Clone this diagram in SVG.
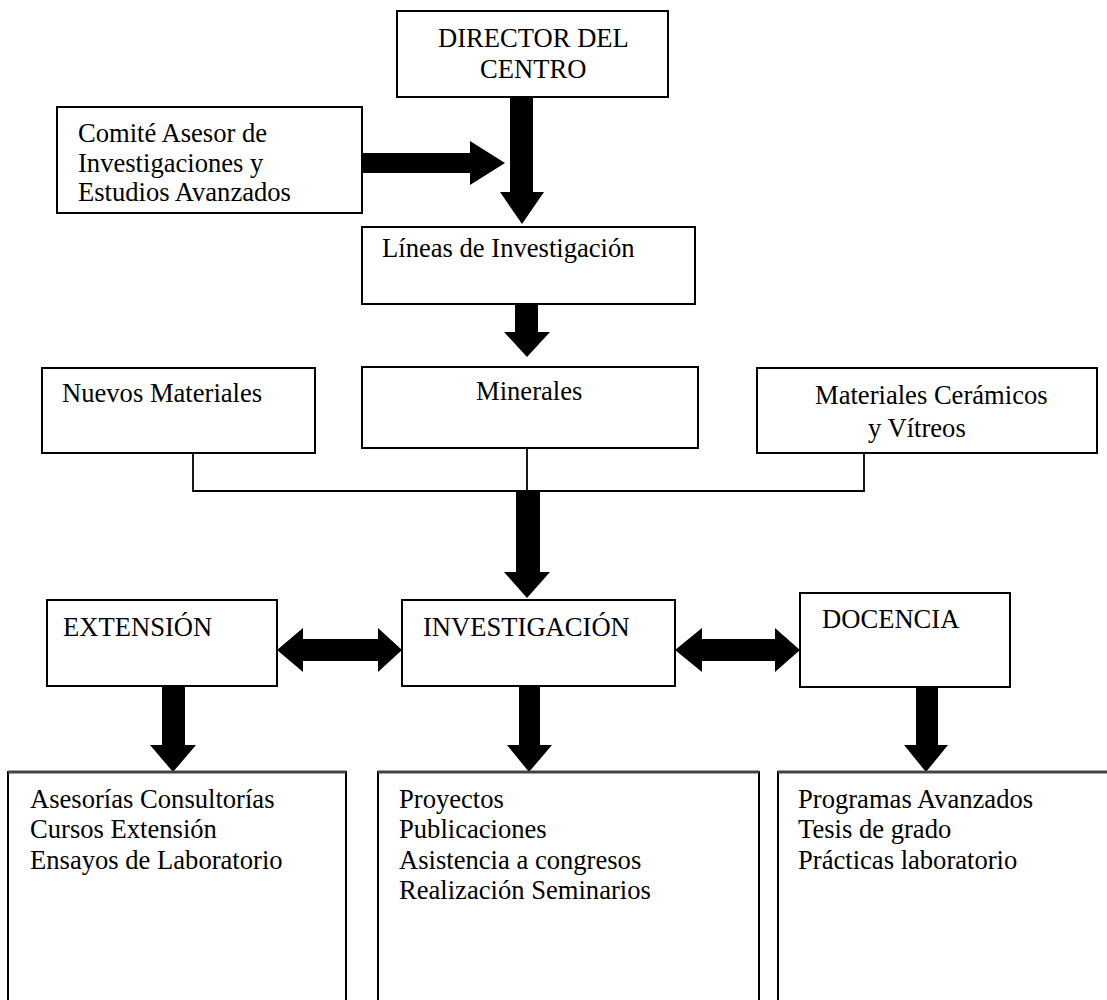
<svg xmlns="http://www.w3.org/2000/svg" width="1107" height="1000" viewBox="0 0 1107 1000">
<style>
  .box { fill: #ffffff; stroke: #000000; stroke-width: 2; }
  .t { font-family: "Liberation Serif", "Times New Roman", serif; font-size: 26.6px; fill: #000000; }
  .arr { fill: #000000; stroke: none; }
  .ln { fill: none; stroke: #000000; stroke-width: 1.8; }
  .topln { stroke: #444444; stroke-width: 3; }
</style>
<rect x="0" y="0" width="1107" height="1000" fill="#ffffff"/>

<g id="connectors">
  <polygon class="arr" points="510,97 533,97 533,192 544,192 522,224 500,192 510,192"/>
  <polygon class="arr" points="362,153 470,153 470,141 505,163 470,185 470,173 362,173"/>
  <polygon class="arr" points="515,305 538,305 538,332 550,332 527,357 504,332 515,332"/>
  <path class="ln" d="M193,453 V491 H864 V453 M527,437 V491"/>
  <polygon class="arr" points="516,492 540,492 540,572 550,572 527,598 504,572 516,572"/>
  <polygon class="arr" points="277,650 303,628 303,639 378,639 378,628 402,650 378,672 378,661 303,661 303,672"/>
  <polygon class="arr" points="675,650 702,628 702,639 775,639 775,628 800,650 775,672 775,661 702,661 702,672"/>
  <polygon class="arr" points="162,687 185,687 185,745 196,745 173,772 150,745 162,745"/>
  <polygon class="arr" points="519,687 540,687 540,745 552,745 529,772 507,745 519,745"/>
  <polygon class="arr" points="916,687 938,687 938,745 948,745 926,772 904,745 916,745"/>
</g>

<g id="director">
  <rect class="box" x="397" y="11" width="271" height="86"/>
  <text class="t" x="438" y="47">DIRECTOR DEL</text>
  <text class="t" x="480" y="78">CENTRO</text>
</g>
<g id="comite">
  <rect class="box" x="57" y="107" width="305" height="106"/>
  <text class="t" x="78" y="142">Comité Asesor de</text>
  <text class="t" x="78" y="172">Investigaciones y</text>
  <text class="t" x="78" y="201">Estudios Avanzados</text>
</g>
<g id="lineas">
  <rect class="box" x="362" y="227" width="333" height="77"/>
  <text class="t" x="382" y="257">Líneas de Investigación</text>
</g>
<g id="nuevos">
  <rect class="box" x="42" y="368" width="273" height="85"/>
  <text class="t" x="62" y="402">Nuevos Materiales</text>
</g>
<g id="minerales">
  <rect class="box" x="362" y="367" width="336" height="81"/>
  <text class="t" x="476" y="400">Minerales</text>
</g>
<g id="ceramicos">
  <rect class="box" x="757" y="368" width="340" height="85"/>
  <text class="t" x="815" y="404">Materiales Cerámicos</text>
  <text class="t" x="868" y="437">y Vítreos</text>
</g>
<g id="extension">
  <rect class="box" x="47" y="600" width="230" height="86"/>
  <text class="t" x="63" y="636">EXTENSIÓN</text>
</g>
<g id="investigacion">
  <rect class="box" x="402" y="600" width="273" height="86"/>
  <text class="t" x="423" y="636">INVESTIGACIÓN</text>
</g>
<g id="docencia">
  <rect class="box" x="800" y="593" width="210" height="94"/>
  <text class="t" x="822" y="628">DOCENCIA</text>
</g>
<g id="extension-items">
  <rect class="box" x="8" y="772" width="338" height="250"/>
  <line class="topln" x1="8" y1="772" x2="346" y2="772"/>
  <text class="t" x="30" y="808">Asesorías Consultorías</text>
  <text class="t" x="30" y="838">Cursos Extensión</text>
  <text class="t" x="30" y="869">Ensayos de Laboratorio</text>
</g>
<g id="investigacion-items">
  <rect class="box" x="378" y="772" width="381" height="250"/>
  <line class="topln" x1="378" y1="772" x2="759" y2="772"/>
  <text class="t" x="399" y="808">Proyectos</text>
  <text class="t" x="399" y="838">Publicaciones</text>
  <text class="t" x="399" y="869">Asistencia a congresos</text>
  <text class="t" x="399" y="899">Realización Seminarios</text>
</g>
<g id="docencia-items">
  <rect class="box" x="778" y="772" width="360" height="250"/>
  <line class="topln" x1="778" y1="772" x2="1107" y2="772"/>
  <text class="t" x="798" y="808">Programas Avanzados</text>
  <text class="t" x="798" y="838">Tesis de grado</text>
  <text class="t" x="798" y="869">Prácticas laboratorio</text>
</g>
</svg>
